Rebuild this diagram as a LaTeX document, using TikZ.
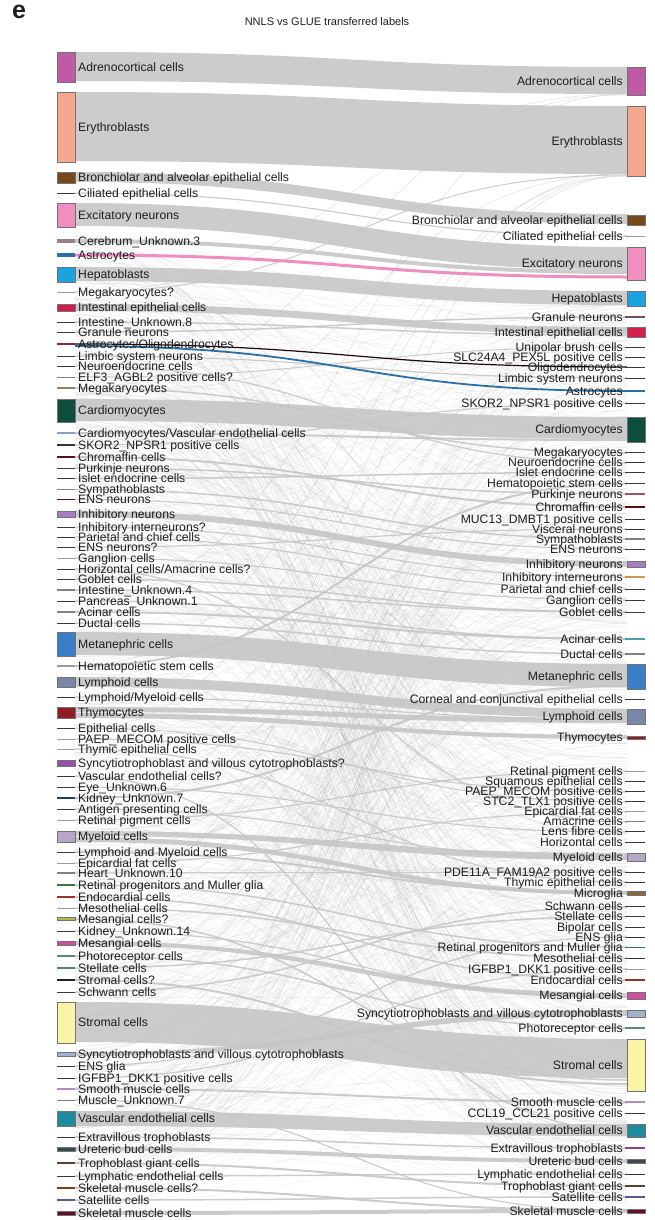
\documentclass[tikz,border=0pt]{standalone}
\usepackage{fontspec}
\setmainfont{Liberation Sans}
\definecolor{txt}{HTML}{1E1E1E}
\definecolor{flowc}{HTML}{C6C6C6}
\definecolor{cAdr}{HTML}{C05AA4}
\definecolor{cEry}{HTML}{F5A88E}
\definecolor{cBro}{HTML}{774819}
\definecolor{cExc}{HTML}{F08FBF}
\definecolor{cCer}{HTML}{9A8088}
\definecolor{cAst}{HTML}{2A6FA8}
\definecolor{cHep}{HTML}{1BA3DF}
\definecolor{cInt}{HTML}{D21E48}
\definecolor{cAO}{HTML}{7A2A4A}
\definecolor{cCar}{HTML}{0D4D3C}
\definecolor{cCV}{HTML}{8C9CC0}
\definecolor{cChr}{HTML}{5A1010}
\definecolor{cInh}{HTML}{A57EC3}
\definecolor{cMet}{HTML}{3A7EC8}
\definecolor{cLym}{HTML}{7A88A8}
\definecolor{cThy}{HTML}{8E1E22}
\definecolor{cSyq}{HTML}{9A4EAE}
\definecolor{cKid}{HTML}{1F3A7A}
\definecolor{cMye}{HTML}{B7A6C6}
\definecolor{cRet}{HTML}{3A7A3A}
\definecolor{cEnd}{HTML}{A0302A}
\definecolor{cMsq}{HTML}{B8B850}
\definecolor{cMes}{HTML}{D04EA0}
\definecolor{cPho}{HTML}{5A8A7A}
\definecolor{cSte}{HTML}{4A8A6A}
\definecolor{cStr}{HTML}{FBF4A6}
\definecolor{cSyn}{HTML}{9DB4CC}
\definecolor{cSmo}{HTML}{B48AC0}
\definecolor{cVas}{HTML}{1E8A9E}
\definecolor{cUre}{HTML}{3A4A50}
\definecolor{cTro}{HTML}{5A4030}
\definecolor{cSkq}{HTML}{8A3A20}
\definecolor{cSat}{HTML}{5A5A8A}
\definecolor{cSke}{HTML}{6A0A2A}
\definecolor{cPur}{HTML}{A05070}
\definecolor{cIIn}{HTML}{C89A50}
\definecolor{cAci}{HTML}{4AA0B0}
\definecolor{cMic}{HTML}{8A6A3A}
\definecolor{cExt}{HTML}{8A4A8A}
\definecolor{cGra}{HTML}{6A5060}
\definecolor{thinc}{HTML}{3A3A3A}
\definecolor{lightc}{HTML}{9A9A9A}
\tikzset{
  llab/.style={anchor=base west, inner sep=0pt, text=txt, font=\fontsize{12.2}{12}\selectfont},
  rlab/.style={anchor=base east, inner sep=0pt, text=txt, font=\fontsize{12.2}{12}\selectfont},
  boxedge/.style={draw=black!55, line width=0.5pt},
  flowfill/.style={fill=flowc, fill opacity=0.9},
  flowline/.style={draw=flowc, opacity=0.9},
}
% left box: name, y1, y2, colour, text
\newcommand\LB[5]{\fill[#4] (57,#2) rectangle (75,#3); \draw[boxedge] (57,#2) rectangle (75,#3);
  \node[llab] (#1) at (78,{(#2+#3)/2+4.3}) {#5};}
% left line: name, y, colour, width, text
\newcommand\LL[5]{\draw[#3, line width=#4] (57,#2) -- (75,#2); \node[llab] (#1) at (78,{#2+4.3}) {#5};}
\newcommand\RB[5]{\fill[#4] (627,#2) rectangle (645,#3); \draw[boxedge] (627,#2) rectangle (645,#3);
  \node[rlab] (#1) at (623,{(#2+#3)/2+4.3}) {#5};}
\newcommand\RL[5]{\draw[#3, line width=#4] (625,#2) -- (645,#2); \node[rlab] (#1) at (623,{#2+4.3}) {#5};}
% band: left top, left bottom, right top, right bottom
\newcommand\FB[4]{\fill[flowfill] (75,#1) .. controls (351,#1) and (351,#3) .. (627,#3) -- (627,#4) .. controls (351,#4) and (351,#2) .. (75,#2) -- cycle;}
% thin flow: left y, right y, width
\newcommand\FT[3]{\draw[flowline, line width=#3] (75,#1) .. controls (351,#1) and (351,#2) .. (627,#2);}
\begin{document}
\begin{tikzpicture}[x=1pt,y=-1pt]
\useasboundingbox (0,0) rectangle (654,1220);
% background texture of many faint flows
\pgfmathsetseed{4242}
\foreach \i in {1,...,800}{
  \pgfmathsetmacro\a{235+975*rnd}
  \pgfmathsetmacro\b{300+910*rnd}
  \draw[gray, opacity=0.13, line width=0.35pt] (75,\a) .. controls (351,\a) and (351,\b) .. (627,\b);
}
% faint fans into upper right nodes
\foreach \a/\b in {292/94, 388/95, 600/94, 820/175, 666/176, 450/174, 730/173, 900/176}{
  \draw[gray, opacity=0.25, line width=0.5pt] (75,\a) .. controls (351,\a) and (351,\b) .. (627,\b);
}
% ---- main bands ----
\FB{52}{81}{67}{94}
\FB{92}{161}{106}{174}
\FB{172}{182}{214}{224}
\FB{203}{226}{247}{270}
\FB{239}{243}{270}{274}
\FB{267}{281}{291}{305}
\FB{304}{311}{327}{334}
\FB{399}{421}{417}{439}
\FB{511}{517}{561}{567}
\FB{632}{655}{664}{687}
\FB{677}{687}{709}{718}
\FB{707}{712}{718}{723}
\FB{713}{718}{735}{739}
\FB{831}{836}{853}{860}
\FB{837}{842}{891}{895}
\FB{941}{945}{993}{998}
\FB{1002}{1042}{1039}{1078}
\FB{1052}{1056}{1010}{1016}
\FB{1111}{1126}{1124}{1136}
\FB{1147}{1151}{1159}{1163}
\FB{1211}{1215}{1209}{1213}
% ---- thin flows ----
\FT{193}{236}{1.2}
\FT{292}{175}{1}
\FT{322}{335}{1.5}
\FT{332}{317}{1.5}
\FT{356}{378}{1.2}
\FT{366}{463}{1.2}
\FT{377}{347}{1}
\FT{388}{453}{1.5}
\FT{433}{440}{2}
\FT{445}{403}{1.2}
\FT{457}{507}{2}
\FT{468}{494}{1.5}
\FT{478.5}{472.5}{1.5}
\FT{489.5}{539}{1.5}
\FT{499.5}{549}{1.2}
\FT{527}{577}{1.2}
\FT{537}{589}{1.2}
\FT{547}{529}{1.2}
\FT{558}{600}{1.2}
\FT{569}{822}{1.2}
\FT{579}{612}{1.5}
\FT{590}{612}{1.5}
\FT{601}{639}{1.5}
\FT{612}{639}{2}
\FT{623}{654}{1.5}
\FT{666}{483.5}{2}
\FT{697}{719}{1.2}
\FT{728}{802}{1}
\FT{739}{792}{1.2}
\FT{749}{882}{1.2}
\FT{776}{1130}{1.2}
\FT{787}{832}{1.2}
\FT{798}{686}{2}
\FT{809}{859}{1.2}
\FT{820}{771}{1.2}
\FT{852}{893}{2}
\FT{863}{812}{1.2}
\FT{873}{872}{1.2}
\FT{885}{947}{1.5}
\FT{897}{980}{1.5}
\FT{908}{958}{1.5}
\FT{919}{1080}{1.5}
\FT{931}{997}{1.2}
\FT{956}{1028}{1.5}
\FT{968}{916.5}{1.5}
\FT{980}{1084}{2}
\FT{992}{907}{1.5}
\FT{1066}{937}{1.2}
\FT{1078}{969}{1.2}
\FT{1089}{1102}{2}
\FT{1100}{1211}{1.2}
\FT{1137}{1148}{1.5}
\FT{1163}{1186}{2}
\FT{1176}{1174}{1.5}
\FT{1188}{1210}{2}
\FT{1200}{1197}{1.5}
% coloured flows
\draw[cExc, line width=3pt] (75,255) .. controls (351,255) and (351,277) .. (627,277);
\draw[black!80!cAO, line width=1.2pt] (75,344) .. controls (351,344) and (351,367) .. (627,367);
\draw[cAst, line width=1.8pt] (75,346) .. controls (351,346) and (351,391) .. (627,391);
% ---- title ----
\node[anchor=west, inner sep=0pt, font=\fontsize{25}{25}\selectfont\bfseries, text=txt] (panel) at (12,12) {e};
\node[inner sep=0pt, font=\fontsize{11}{11}\selectfont, text=txt] (title) at (327,22) {NNLS vs GLUE transferred labels};
% ---- left nodes ----
\LB{l1}{52}{82}{cAdr}{Adrenocortical cells}
\LB{l2}{92}{162}{cEry}{Erythroblasts}
\LB{l3}{172}{183}{cBro}{Bronchiolar and alveolar epithelial cells}
\LL{l4}{193}{thinc}{0.8}{Ciliated epithelial cells}
\LB{l5}{203}{227}{cExc}{Excitatory neurons}
\LL{l6}{241}{cCer}{4.5}{Cerebrum\_Unknown.3}
\LL{l7}{255}{cAst}{3.5}{Astrocytes}
\LB{l8}{267}{282}{cHep}{Hepatoblasts}
\LL{l9}{292}{lightc}{0.8}{Megakaryocytes?}
\LB{l10}{304}{311}{cInt}{Intestinal epithelial cells}
\LL{l11}{322}{thinc}{0.8}{Intestine\_Unknown.8}
\LL{l12}{332}{thinc}{0.8}{Granule neurons}
\LL{l13}{344}{cAO}{2.5}{Astrocytes/Oligodendrocytes}
\LL{l14}{356}{thinc}{0.8}{Limbic system neurons}
\LL{l15}{366}{thinc}{0.8}{Neuroendocrine cells}
\LL{l16}{377}{gray}{0.8}{ELF3\_AGBL2 positive cells?}
\LL{l17}{388}{gray!70!brown}{1.5}{Megakaryocytes}
\LB{l18}{399}{422}{cCar}{Cardiomyocytes}
\LL{l19}{433}{cCV}{1.5}{Cardiomyocytes/Vascular endothelial cells}
\LL{l20}{445}{gray!40!black}{1.2}{SKOR2\_NPSR1 positive cells}
\LL{l21}{457}{cChr}{2.5}{Chromaffin cells}
\LL{l22}{468}{thinc}{0.8}{Purkinje neurons}
\LL{l23}{478.5}{thinc}{0.8}{Islet endocrine cells}
\LL{l24}{489.5}{gray}{1.5}{Sympathoblasts}
\LL{l25}{499.5}{cChr}{0.8}{ENS neurons}
\LB{l26}{511}{517}{cInh}{Inhibitory neurons}
\LL{l27}{527}{thinc}{0.8}{Inhibitory interneurons?}
\LL{l28}{537}{thinc}{0.8}{Parietal and chief cells}
\LL{l29}{547}{thinc}{0.8}{ENS neurons?}
\LL{l30}{558}{lightc}{0.8}{Ganglion cells}
\LL{l31}{569}{thinc}{0.8}{Horizontal cells/Amacrine cells?}
\LL{l32}{579}{thinc}{0.8}{Goblet cells}
\LL{l33}{590}{gray}{1.5}{Intestine\_Unknown.4}
\LL{l34}{601}{thinc}{0.8}{Pancreas\_Unknown.1}
\LL{l35}{612}{gray}{1.5}{Acinar cells}
\LL{l36}{623}{thinc}{0.8}{Ductal cells}
\LB{l37}{632}{656}{cMet}{Metanephric cells}
\LL{l38}{666}{lightc}{2}{Hematopoietic stem cells}
\LB{l39}{677}{687}{cLym}{Lymphoid cells}
\LL{l40}{697}{thinc}{0.8}{Lymphoid/Myeloid cells}
\LB{l41}{707}{718}{cThy}{Thymocytes}
\LL{l42}{728}{thinc}{0.8}{Epithelial cells}
\LL{l43}{739}{lightc}{0.8}{PAEP\_MECOM positive cells}
\LL{l44}{749}{lightc}{1}{Thymic epithelial cells}
\LB{l45}{760}{766}{cSyq}{Syncytiotrophoblast and villous cytotrophoblasts?}
\LL{l46}{776}{thinc}{0.8}{Vascular endothelial cells?}
\LL{l47}{787}{thinc}{0.8}{Eye\_Unknown.6}
\LL{l48}{798}{cKid}{2}{Kidney\_Unknown.7}
\LL{l49}{809}{thinc}{0.8}{Antigen presenting cells}
\LL{l50}{820}{lightc}{1}{Retinal pigment cells}
\LB{l51}{831}{842}{cMye}{Myeloid cells}
\LL{l52}{852}{thinc}{0.8}{Lymphoid and Myeloid cells}
\LL{l53}{863}{lightc}{0.8}{Epicardial fat cells}
\LL{l54}{873}{gray}{1.2}{Heart\_Unknown.10}
\LL{l55}{885}{cRet}{2}{Retinal progenitors and Muller glia}
\LL{l56}{897}{cEnd}{2}{Endocardial cells}
\LL{l57}{908}{lightc}{1}{Mesothelial cells}
\LB{l58}{917.5}{920.5}{cMsq}{Mesangial cells?}
\LL{l59}{931}{thinc}{0.8}{Kidney\_Unknown.14}
\LB{l60}{941}{945}{cMes}{Mesangial cells}
\LL{l61}{956}{cPho}{1.2}{Photoreceptor cells}
\LL{l62}{968}{cSte}{2}{Stellate cells}
\LL{l63}{980}{black!85}{2}{Stromal cells?}
\LL{l64}{992}{thinc}{0.8}{Schwann cells}
\LB{l65}{1002}{1043}{cStr}{Stromal cells}
\LB{l66}{1052}{1056}{cSyn}{Syncytiotrophoblasts and villous cytotrophoblasts}
\LL{l67}{1066}{thinc}{0.8}{ENS glia}
\LL{l68}{1078}{thinc}{0.8}{IGFBP1\_DKK1 positive cells}
\LL{l69}{1089}{cSmo}{2}{Smooth muscle cells}
\LL{l70}{1100}{gray}{0.8}{Muscle\_Unknown.7}
\LB{l71}{1111}{1126}{cVas}{Vascular endothelial cells}
\LL{l72}{1137}{thinc}{0.8}{Extravillous trophoblasts}
\LB{l73}{1147}{1151}{cUre}{Ureteric bud cells}
\LL{l74}{1163}{cTro}{2}{Trophoblast giant cells}
\LL{l75}{1176}{thinc}{0.8}{Lymphatic endothelial cells}
\LL{l76}{1188}{cSkq}{2.5}{Skeletal muscle cells?}
\LL{l77}{1200}{cSat}{1.5}{Satellite cells}
\LB{l78}{1211}{1215}{cSke}{Skeletal muscle cells}
% ---- right nodes ----
\RB{r1}{67}{95}{cAdr}{Adrenocortical cells}
\RB{r2}{106}{176}{cEry}{Erythroblasts}
\RB{r3}{215}{225}{cBro}{Bronchiolar and alveolar epithelial cells}
\RL{r4}{236}{lightc}{0.8}{Ciliated epithelial cells}
\RB{r5}{247}{280}{cExc}{Excitatory neurons}
\RB{r6}{291}{306}{cHep}{Hepatoblasts}
\RL{r7}{317}{cGra}{1.5}{Granule neurons}
\RB{r8}{327}{337}{cInt}{Intestinal epithelial cells}
\RL{r9}{347}{thinc}{0.8}{Unipolar brush cells}
\RL{r10}{357}{thinc}{0.8}{SLC24A4\_PEX5L positive cells}
\RL{r11}{367}{thinc}{0.8}{Oligodendrocytes}
\RL{r12}{378}{thinc}{0.8}{Limbic system neurons}
\RL{r13}{391}{cAst}{2.5}{Astrocytes}
\RL{r14}{403}{thinc}{0.8}{SKOR2\_NPSR1 positive cells}
\RB{r15}{417}{442}{cCar}{Cardiomyocytes}
\RL{r16}{452.5}{thinc}{0.8}{Megakaryocytes}
\RL{r17}{462.5}{thinc}{0.8}{Neuroendocrine cells}
\RL{r18}{472.5}{thinc}{0.8}{Islet endocrine cells}
\RL{r19}{483.5}{thinc}{0.8}{Hematopoietic stem cells}
\RL{r20}{494}{cPur}{1.5}{Purkinje neurons}
\RL{r21}{507}{cChr}{2}{Chromaffin cells}
\RL{r22}{519}{thinc}{0.8}{MUC13\_DMBT1 positive cells}
\RL{r23}{529}{thinc}{0.8}{Visceral neurons}
\RL{r24}{539}{gray}{1.5}{Sympathoblasts}
\RL{r25}{549}{thinc}{0.8}{ENS neurons}
\RB{r26}{561}{567}{cInh}{Inhibitory neurons}
\RL{r27}{577}{cIIn}{1.5}{Inhibitory interneurons}
\RL{r28}{589}{thinc}{0.8}{Parietal and chief cells}
\RL{r29}{600}{thinc}{0.8}{Ganglion cells}
\RL{r30}{612}{thinc}{0.8}{Goblet cells}
\RL{r31}{639}{cAci}{1.5}{Acinar cells}
\RL{r32}{654}{gray}{1.2}{Ductal cells}
\RB{r33}{664}{689}{cMet}{Metanephric cells}
\RL{r34}{699}{thinc}{0.8}{Corneal and conjunctival epithelial cells}
\RB{r35}{709}{724}{cLym}{Lymphoid cells}
\RB{r36}{736}{739}{cThy}{Thymocytes}
\RL{r37}{771}{lightc}{0.8}{Retinal pigment cells}
\RL{r38}{781.5}{thinc}{0.8}{Squamous epithelial cells}
\RL{r39}{791.5}{thinc}{0.8}{PAEP\_MECOM positive cells}
\RL{r40}{801.5}{thinc}{0.8}{STC2\_TLX1 positive cells}
\RL{r41}{811.5}{lightc}{0.8}{Epicardial fat cells}
\RL{r42}{821.5}{gray}{1}{Amacrine cells}
\RL{r43}{831.5}{thinc}{0.8}{Lens fibre cells}
\RL{r44}{842.5}{thinc}{0.8}{Horizontal cells}
\RB{r45}{853}{861}{cMye}{Myeloid cells}
\RL{r46}{872}{thinc}{0.8}{PDE11A\_FAM19A2 positive cells}
\RL{r47}{882}{thinc}{0.8}{Thymic epithelial cells}
\RB{r48}{891.5}{895}{cMic}{Microglia}
\RL{r49}{906.5}{thinc}{0.8}{Schwann cells}
\RL{r50}{916.5}{thinc}{0.8}{Stellate cells}
\RL{r51}{927.5}{thinc}{0.8}{Bipolar cells}
\RL{r52}{937.5}{thinc}{0.8}{ENS glia}
\RL{r53}{947.5}{cRet}{1.5}{Retinal progenitors and Muller glia}
\RL{r54}{958}{thinc}{0.8}{Mesothelial cells}
\RL{r55}{969}{lightc}{0.8}{IGFBP1\_DKK1 positive cells}
\RL{r56}{980}{cEnd}{1.5}{Endocardial cells}
\RB{r57}{992}{999}{cMes}{Mesangial cells}
\RB{r58}{1010}{1017}{cSyn}{Syncytiotrophoblasts and villous cytotrophoblasts}
\RL{r59}{1028}{cPho}{1.5}{Photoreceptor cells}
\RB{r60}{1039}{1091}{cStr}{Stromal cells}
\RL{r61}{1102}{cSmo}{1.5}{Smooth muscle cells}
\RL{r62}{1113}{thinc}{0.8}{CCL19\_CCL21 positive cells}
\RB{r63}{1124}{1137}{cVas}{Vascular endothelial cells}
\RL{r64}{1148}{cExt}{1.5}{Extravillous trophoblasts}
\RB{r65}{1159}{1163}{cUre}{Ureteric bud cells}
\RL{r66}{1174}{thinc}{0.8}{Lymphatic endothelial cells}
\RL{r67}{1186}{cTro}{1.5}{Trophoblast giant cells}
\RL{r68}{1197}{cSat}{1.5}{Satellite cells}
\RB{r69}{1209}{1213}{cSke}{Skeletal muscle cells}
\end{tikzpicture}
\end{document}
